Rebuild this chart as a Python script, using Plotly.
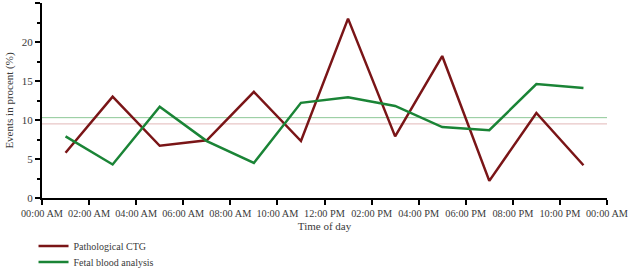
import plotly.graph_objects as go

hours = [1, 3, 5, 7, 9, 11, 13, 15, 17, 19, 21, 23]
pathological_ctg = [5.8, 13.0, 6.7, 7.4, 13.6, 7.3, 23.0, 7.9, 18.2, 2.2, 10.9, 4.2]
fetal_blood = [7.9, 4.3, 11.7, 7.3, 4.5, 12.2, 12.9, 11.8, 9.1, 8.7, 14.6, 14.1]
ref_x = [0, 24]
ctg_ref = [9.5, 9.5]
fba_ref = [10.3, 10.3]
tick_hours = list(range(0, 25, 2))
tick_labels = ["00:00 AM", "02:00 AM", "04:00 AM", "06:00 AM", "08:00 AM", "10:00 AM",
               "12:00 PM", "02:00 PM", "04:00 PM", "06:00 PM", "08:00 PM", "10:00 PM", "00:00 AM"]

RED = "#7a1517"
GREEN = "#1a8436"
FONT = "Liberation Serif"
TXT = "#3a3a3a"

fig = go.Figure()
fig.add_trace(go.Scatter(x=ref_x, y=fba_ref, mode="lines", line=dict(color="#8cc896", width=1),
                         showlegend=False, hoverinfo="skip"))
fig.add_trace(go.Scatter(x=ref_x, y=ctg_ref, mode="lines", line=dict(color="#e2b8b8", width=1),
                         showlegend=False, hoverinfo="skip"))
fig.add_trace(go.Scatter(x=hours, y=pathological_ctg, mode="lines", name="Pathological CTG",
                         line=dict(color=RED, width=2.5), legend="legend"))
fig.add_trace(go.Scatter(x=hours, y=fetal_blood, mode="lines", name="Fetal blood analysis",
                         line=dict(color=GREEN, width=2.5), legend="legend2"))

leg_common = dict(x=-0.015, xref="paper", yref="container", xanchor="left", yanchor="top",
                  orientation="v", font=dict(family=FONT, size=10, color=TXT),
                  itemwidth=30, bgcolor="rgba(0,0,0,0)")

fig.update_layout(
    width=628, height=274,
    margin=dict(l=42, r=21, t=3, b=76),
    paper_bgcolor="white", plot_bgcolor="white",
    font=dict(family=FONT, size=11, color=TXT),
    showlegend=True,
    legend=dict(y=0.155, **leg_common),
    legend2=dict(y=0.097, **leg_common),
    xaxis=dict(range=[0, 24], tickvals=tick_hours, ticktext=tick_labels,
               showgrid=False, zeroline=False, showline=True, linecolor="black", linewidth=2,
               ticks="outside", ticklen=5, tickwidth=2, tickcolor="black",
               tickfont=dict(size=10.3), tickangle=0, ticklabeloverflow="allow",
               automargin=False,
               title=dict(text="Time of day", font=dict(size=11), standoff=6)),
    yaxis=dict(range=[0, 25], tickvals=[0, 5, 10, 15, 20, 25],
               showgrid=False, zeroline=False, showline=True, linecolor="black", linewidth=2,
               ticks="outside", ticklen=5, tickwidth=2, tickcolor="black",
               minor=dict(dtick=2.5, ticks="outside", ticklen=3, tickwidth=1.5, tickcolor="black"),
               tickfont=dict(size=11), automargin=False,
               title=dict(text="Events in procent (%)", font=dict(size=11), standoff=6)),
)

fig.write_html("out.html")
